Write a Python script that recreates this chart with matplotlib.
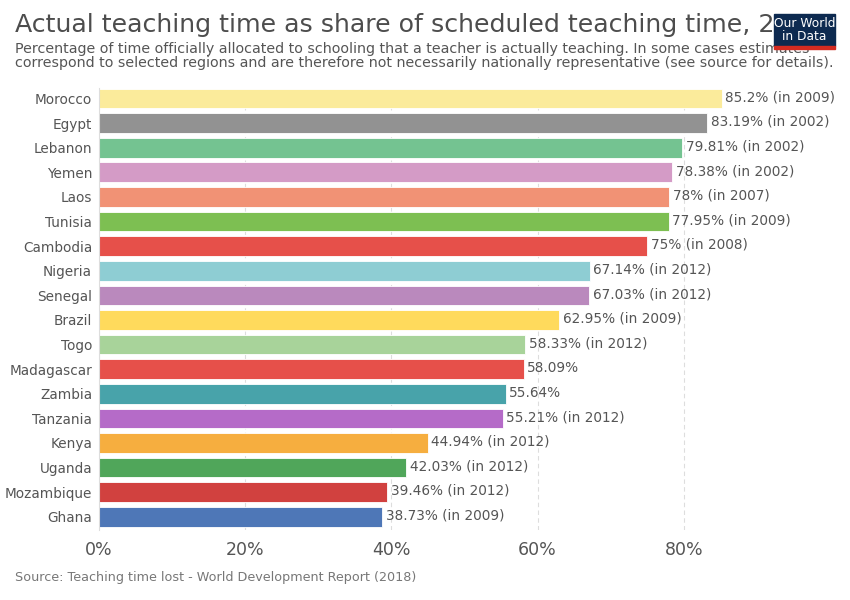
import matplotlib
matplotlib.use('Agg')
import matplotlib.pyplot as plt
from matplotlib.patches import Rectangle


countries = [
    'Morocco', 'Egypt', 'Lebanon', 'Yemen', 'Laos', 'Tunisia', 'Cambodia',
    'Nigeria', 'Senegal', 'Brazil', 'Togo', 'Madagascar', 'Zambia',
    'Tanzania', 'Kenya', 'Uganda', 'Mozambique', 'Ghana',
]
values = [
    85.2, 83.19, 79.81, 78.38, 78, 77.95, 75, 67.14, 67.03, 62.95, 58.33,
    58.09, 55.64, 55.21, 44.94, 42.03, 39.46, 38.73,
]
value_text = [
    '85.2%', '83.19%', '79.81%', '78.38%', '78%', '77.95%', '75%', '67.14%',
    '67.03%', '62.95%', '58.33%', '58.09%', '55.64%', '55.21%', '44.94%',
    '42.03%', '39.46%', '38.73%',
]
years = [
    2009, 2002, 2002, 2002, 2007, 2009, 2008, 2012, 2012, 2009, 2012,
    None, None, 2012, 2012, 2012, 2012, 2009,
]
colors = [
    '#fbeb9b', '#929292', '#74c391', '#d49bc6', '#f19275', '#7dbf52',
    '#e6504a', '#8ecdd3', '#ba89bd', '#ffda5c', '#a8d39a', '#e6504a',
    '#48a3aa', '#b56bc8', '#f6ae3f', '#50a65a', '#d1413f', '#4e77b7',
]
xticks = [0, 20, 40, 60, 80]

TEXT = '#555555'

fig = plt.figure(figsize=(8.5, 6), dpi=100)
ax = fig.add_axes([0.1165, 0.117, 0.755, 0.736])

ys = list(range(len(countries)))
ax.barh(ys, values, height=0.8, color=colors, edgecolor='white',
        linewidth=0.6, zorder=2)
for y, v, t, yr in zip(ys, values, value_text, years):
  label = t if yr is None else f'{t} (in {yr})'
  ax.text(v + 0.5, y - 0.05, label, va='center', ha='left', fontsize=9.8,
          color=TEXT, zorder=3)

ax.set_xlim(0, 87.8)
ax.set_ylim(17.53, -0.42)
ax.set_yticks(ys)
ax.set_yticklabels(countries, fontsize=9.8, color=TEXT)
ax.set_xticks(xticks)
ax.set_xticklabels([f'{x}%' for x in xticks], fontsize=12.5, color=TEXT)
ax.tick_params(axis='y', length=0, pad=5)
ax.tick_params(axis='x', length=0, pad=8)
for side in ('top', 'right', 'bottom'):
  ax.spines[side].set_visible(False)
ax.spines['left'].set_color('#dddddd')
ax.grid(axis='x', color='#dddddd', linestyle=(0, (4, 3)), linewidth=0.8,
        zorder=0)
ax.set_axisbelow(True)

fig.text(15 / 850, 1 - 25 / 600, 'Actual teaching time as share of scheduled '
         'teaching time, 2016', fontsize=18.2, color='#4d4d4d', va='center')
fig.text(15 / 850, 1 - 56 / 600,
         'Percentage of time officially allocated to schooling that a teacher '
         'is actually teaching. In some cases estimates\ncorrespond to '
         'selected regions and are therefore not necessarily nationally '
         'representative (see source for details).',
         fontsize=10.3, color=TEXT, va='center', linespacing=1.05)
fig.text(15 / 850, 1 - 577 / 600,
         'Source: Teaching time lost - World Development Report (2018)',
         fontsize=9.2, color='#777777', va='center')

# logo
fig.patches.append(Rectangle((774 / 850, 1 - 46 / 600), 61 / 850, 32 / 600,
                             transform=fig.transFigure, color='#0d2a50',
                             zorder=5))
fig.patches.append(Rectangle((774 / 850, 1 - 49 / 600), 61 / 850, 3 / 600,
                             transform=fig.transFigure, color='#d42b21',
                             zorder=5))
fig.text(804.5 / 850, 1 - 30 / 600, 'Our World\nin Data', color='white',
         fontsize=8.8, ha='center', va='center', linespacing=1.0, zorder=6)

fig.savefig('out.png', dpi=100)
